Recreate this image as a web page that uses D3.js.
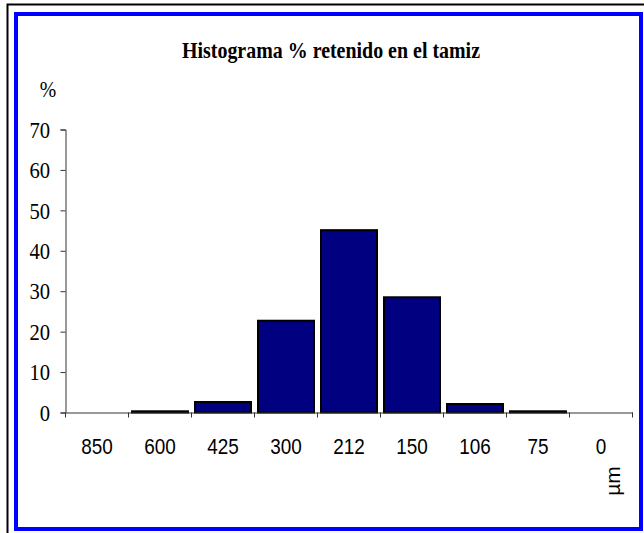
<!DOCTYPE html>
<html><head><meta charset="utf-8">
<script src="https://cdn.jsdelivr.net/npm/d3@7"></script>
<style>html,body{margin:0;padding:0;background:#fff;}svg{display:block;}</style>
</head><body>
<svg id="chart" width="644" height="533"></svg>
<script>
const categories = ["850","600","425","300","212","150","106","75","0"];
const values = [0, 0.3, 2.6, 22.7, 45.1, 28.5, 2.1, 0.3, 0];
const yTicks = [0,10,20,30,40,50,60,70];
const title = "Histograma % retenido en el tamiz";
const yLabel = "%";
const xLabel = "\u00b5m";

const serif = "'Liberation Serif','Times New Roman',serif";
const sans = "'Liberation Sans',Arial,sans-serif";
const sx = 0.86; // horizontal condensing of the text, as in the reference

const svg = d3.select("#chart");
// outer black frame
svg.append("rect").attr("x",7.5).attr("y",4.5).attr("width",700).attr("height",600)
  .attr("fill","none").attr("stroke","#000").attr("stroke-width",2);
// blue frame
svg.append("rect").attr("x",16).attr("y",14).attr("width",625).attr("height",515)
  .attr("fill","#fff").attr("stroke","#0000ff").attr("stroke-width",4);

const xb = d3.scaleBand().domain(categories).range([65.5,632.5]);
const y = d3.scaleLinear().domain([0,70]).range([412.5,129.5]);

// bars
svg.append("g").selectAll("rect").data(categories.map((c,i)=>({c,v:values[i]})).filter(d=>d.v>0))
  .join("rect")
  .attr("x",d=>xb(d.c)+3.5).attr("width",xb.bandwidth()-7)
  .attr("y",d=>y(d.v)).attr("height",d=>y(0)-y(d.v))
  .attr("fill","#000080").attr("stroke","#000").attr("stroke-width",2);

// y axis
const yAxis = d3.axisLeft(y).tickValues(yTicks).tickSize(5).tickPadding(13).tickFormat(d3.format("d"));
const gy = svg.append("g").attr("transform","translate(65.5,0)").call(yAxis);
gy.select(".domain").attr("stroke","#333");
gy.selectAll(".tick line").attr("stroke","#333");
gy.selectAll(".tick text").attr("font-family",serif).attr("font-size",24).attr("fill","#000")
  .attr("transform",`scale(${sx},1)`);

// x axis
const xAxis = d3.axisBottom(xb).tickSize(0).tickPadding(26);
const gx = svg.append("g").attr("transform","translate(0,412.5)").call(xAxis);
gx.select(".domain").attr("stroke","#333");
gx.selectAll(".tick text").attr("font-family",sans).attr("font-size",22).attr("fill","#000")
  .attr("transform",`scale(${sx},1)`);
// boundary ticks
const bounds = categories.map(c=>xb(c)).concat([xb(categories[categories.length-1])+xb.bandwidth()]);
gx.selectAll("line.bt").data(bounds).join("line").attr("class","bt")
  .attr("x1",d=>d).attr("x2",d=>d).attr("y1",0).attr("y2",5).attr("stroke","#333");

// title
svg.append("text").attr("transform","translate(331,58)").attr("text-anchor","middle")
  .attr("font-family",serif).attr("font-weight","bold").attr("font-size",23)
  .attr("textLength",298).attr("lengthAdjust","spacingAndGlyphs")
  .text(title);
// y label
svg.append("text").attr("transform",`translate(48,97) scale(${sx},1)`).attr("text-anchor","middle")
  .attr("font-family",serif).attr("font-size",23).text(yLabel);
// x label
svg.append("text").attr("transform","translate(620,481) rotate(-90)").attr("text-anchor","middle")
  .attr("font-family",sans).attr("font-size",21).text(xLabel);
</script>
</body></html>
